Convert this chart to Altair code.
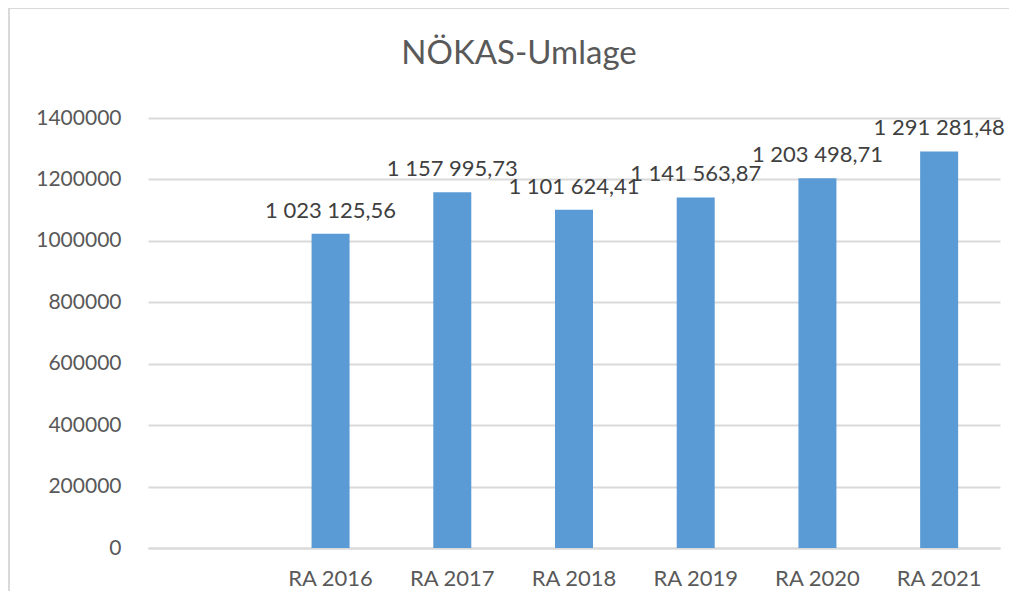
import altair as alt
import pandas as pd

categories = [" ", "RA 2016", "RA 2017", "RA 2018", "RA 2019", "RA 2020", "RA 2021"]
years = ["RA 2016", "RA 2017", "RA 2018", "RA 2019", "RA 2020", "RA 2021"]
values = [1023125.56, 1157995.73, 1101624.41, 1141563.87, 1203498.71, 1291281.48]
y_ticks = [0, 200000, 400000, 600000, 800000, 1000000, 1200000, 1400000]


def fmt(v):
    s = f"{v:,.2f}"
    return s.replace(",", " ").replace(".", ",")


df = pd.DataFrame({"cat": years, "val": values, "label": [fmt(v) for v in values]})

FONT = "Lato"
GRAY = "#595959"

x = alt.X("cat:N", sort=categories,
          scale=alt.Scale(domain=categories, paddingInner=0, paddingOuter=0),
          axis=alt.Axis(title=None, labelAngle=0, labelFontSize=22, labelColor=GRAY,
                        labelFont=FONT, ticks=False, domainColor="#d9d9d9",
                        domainWidth=2, labelPadding=20))
y = alt.Y("val:Q", scale=alt.Scale(domain=[0, 1400000], nice=False),
          axis=alt.Axis(title=None, values=y_ticks, format="d", labelFontSize=21,
                        labelColor=GRAY, labelFont=FONT, ticks=False, domain=False,
                        gridColor="#d9d9d9", gridWidth=2, labelPadding=27))

bars = alt.Chart(df).mark_bar(color="#5B9BD5", size=38).encode(x=x, y=y)
labels = alt.Chart(df).mark_text(baseline="bottom", dy=-11, fontSize=22,
                                 color="#404040", font=FONT).encode(
    x=alt.X("cat:N", sort=categories), y="val:Q", text="label:N")

frame_top = alt.Chart(df).mark_rule(color="#d9d9d9", strokeWidth=2).encode(
    x=alt.value(-140), x2=alt.value(880), y=alt.value(-110))
frame_left = alt.Chart(df).mark_rule(color="#d9d9d9", strokeWidth=2).encode(
    x=alt.value(-139), y=alt.value(-111), y2=alt.value(480))

chart = (frame_top + frame_left + bars + labels).properties(
    width=852, height=430,
    title=alt.TitleParams("NÖKAS-Umlage", fontSize=33, font=FONT, color=GRAY,
                          fontWeight="normal", anchor="middle", dx=-55,
                          offset=-91, baseline="alphabetic"),
    autosize=alt.AutoSizeParams(type="none"),
    padding={"left": 140, "top": 110, "right": 9, "bottom": 43},
).configure_view(stroke=None)

chart.save("out.html", embed_options={"renderer": "svg", "actions": False})
